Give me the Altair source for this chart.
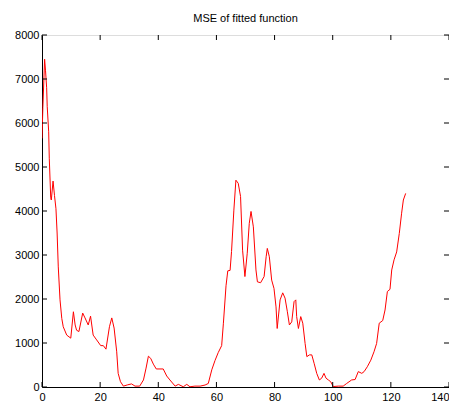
import altair as alt
import pandas as pd

# MSE curve (x, value)
xs = [0, 0.3, 0.9, 1.2, 1.6, 1.8, 2.3, 2.5, 3.0, 3.2, 3.8, 4.3, 4.8, 5.2, 5.6, 6.2, 6.8, 7.3, 8.5, 9.9,
      10.8, 11.4, 11.9, 12.7, 14.0, 14.8, 15.9, 16.7, 17.6, 18.8, 20.2, 21.1, 22.0, 23.2, 24.0, 24.8, 25.7, 26.2, 27.0, 28.0,
      29.5, 30.8, 32.0, 33.6, 34.9, 35.8, 36.6, 37.4, 38.3, 39.3, 41.7, 42.9, 44.0, 45.8, 46.9, 48.6, 49.8, 50.9, 52.6, 54.4,
      56.1, 57.2, 58.4, 59.5, 60.6, 61.8, 62.4, 63.3, 63.9, 64.7, 65.2, 66.0, 66.7, 67.5, 68.3, 69.0, 69.8, 70.6, 71.3, 71.9,
      72.7, 73.6, 74.1, 75.2, 76.4, 77.1, 77.5, 78.2, 79.0, 79.8, 80.5, 80.9, 81.9, 82.8, 83.6, 84.4, 85.1, 85.9, 86.7, 87.3,
      87.6, 88.2, 89.0, 89.7, 90.5, 91.1, 92.0, 92.8, 93.6, 94.5, 95.4, 96.2, 97.0, 97.7, 98.5, 99.3, 100.2, 101.9, 103.6, 104.8,
      106.5, 107.7, 108.8, 110.0, 110.8, 111.9, 113.1, 114.2, 115.1, 116.0, 117.2, 118.0, 118.8, 119.7, 120.3, 121.1, 122.0, 122.9, 123.7, 124.3,
      125.1]
mse = [5650, 6350, 7450, 7200, 6800, 6370, 5800, 5200, 4300, 4250, 4680, 4350, 4050, 3500, 2730, 1980, 1560, 1370, 1180, 1110,
       1710, 1410, 1290, 1260, 1680, 1570, 1410, 1610, 1180, 1070, 940, 940, 860, 1370, 1570, 1340, 800, 310, 120, 20,
       50, 70, 20, 20, 160, 430, 700, 650, 520, 410, 410, 250, 160, 20, 60, 5, 60, 5, 20, 20,
       45, 80, 390, 600, 780, 940, 1450, 2300, 2640, 2650, 3080, 4020, 4700, 4630, 4330, 3110, 2510, 3040, 3720, 3990,
       3640, 2660, 2390, 2370, 2510, 2960, 3150, 2960, 2430, 2240, 1820, 1330, 1980, 2140, 2020, 1710, 1410, 1480, 1940, 1980,
       1600, 1330, 1600, 1450, 990, 690, 730, 730, 540, 310, 160, 200, 310, 200, 160, 120, 10, 20, 20, 80,
       160, 170, 350, 310, 350, 460, 610, 800, 990, 1450, 1510, 1750, 2170, 2220, 2660, 2890, 3070, 3490, 3950, 4250,
       4400]

x_ticks = [0, 20, 40, 60, 80, 100, 120, 140]
y_ticks = [0, 1000, 2000, 3000, 4000, 5000, 6000, 7000, 8000]

W, H = 407, 352
FONT = "Liberation Sans"

df = pd.DataFrame({"x": xs, "mse": mse})
dfx = pd.DataFrame({"t": x_ticks})
dfy = pd.DataFrame({"t": y_ticks})

xscale = alt.Scale(domain=[0, 140], nice=False, zero=False)
yscale = alt.Scale(domain=[0, 8000], nice=False, zero=False)

line = alt.Chart(df).mark_line(color="#ff0000", strokeWidth=1, clip=True).encode(
    x=alt.X("x:Q", scale=xscale,
            axis=alt.Axis(values=x_ticks, title=None, ticks=False, grid=False, labelPadding=4,
                          domainColor="black", labelColor="black", labelFont=FONT, labelFontSize=11,
                          format="d", labelFlush=False,
                          labelAlign={"condition": {"test": "datum.value == 140", "value": "right"},
                                      "value": "center"})),
    y=alt.Y("mse:Q", scale=yscale,
            axis=alt.Axis(values=y_ticks, title=None, ticks=False, grid=False, labelPadding=3,
                          domainColor="black", labelColor="black", labelFont=FONT, labelFontSize=11,
                          format="d", labelFlush=False)),
)

xb = alt.Chart(dfx).mark_rule(color="black", strokeWidth=1).encode(
    x=alt.X("t:Q", scale=xscale), y=alt.value(H), y2=alt.value(H - 5))
xt = alt.Chart(dfx).mark_rule(color="black", strokeWidth=1).encode(
    x=alt.X("t:Q", scale=xscale), y=alt.value(0), y2=alt.value(5))
yl = alt.Chart(dfy).mark_rule(color="black", strokeWidth=1).encode(
    y=alt.Y("t:Q", scale=yscale), x=alt.value(0), x2=alt.value(5))
yr = alt.Chart(dfy).mark_rule(color="black", strokeWidth=1).encode(
    y=alt.Y("t:Q", scale=yscale), x=alt.value(W), x2=alt.value(W - 5))

chart = alt.layer(line, xb, xt, yl, yr).properties(
    width=W, height=H,
    title=alt.TitleParams("MSE of fitted function", font=FONT, fontSize=11, fontWeight="normal",
                          color="black", anchor="middle", offset=5),
    autosize=alt.AutoSizeParams(type="none"),
    padding={"left": 34, "top": 27, "right": 0, "bottom": 16},
).configure_view(stroke="black", strokeWidth=1).configure(background="white")

chart.save("out.html", embed_options={"renderer": "svg", "actions": False})
